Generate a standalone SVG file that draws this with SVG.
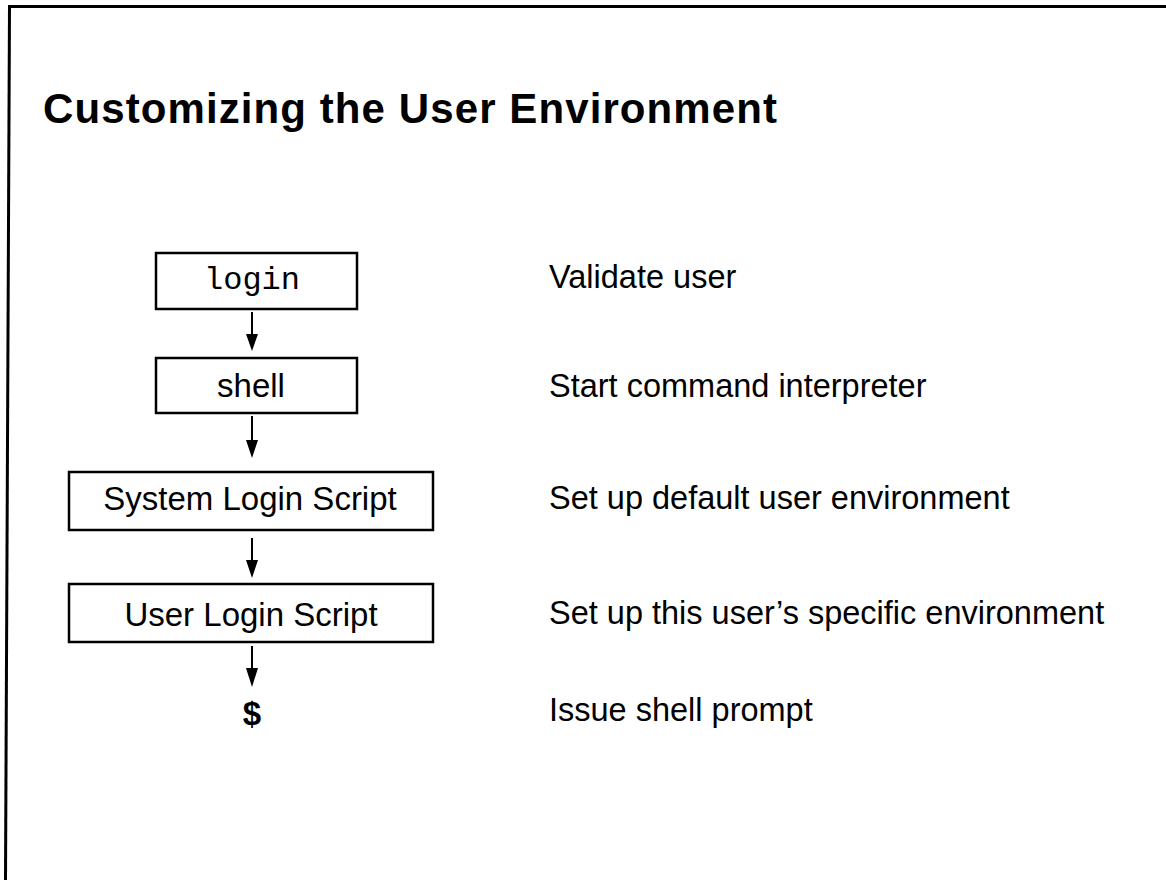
<svg xmlns="http://www.w3.org/2000/svg" width="1166" height="880" viewBox="0 0 1166 880">
  <defs>
    <style>
      .frame { stroke: #000; stroke-width: 3; fill: none; }
      .box { fill: #fff; stroke: #000; stroke-width: 2.5; }
      .sans { font-family: "Liberation Sans", Arial, Helvetica, sans-serif; fill: #000; }
      .mono { font-family: "Liberation Mono", "Courier New", monospace; fill: #000; }
      .label { font-size: 33px; text-anchor: middle; }
      .desc { font-size: 32.5px; }
      .title { font-size: 42px; font-weight: bold; }
      .shaft { stroke: #000; stroke-width: 2; }
      .head { fill: #000; }
    </style>
  </defs>

  <rect width="1166" height="880" fill="#fff"/>

  <!-- page frame: top rule and left rule -->
  <g id="frame">
    <line class="frame" x1="8" y1="6.5" x2="1166" y2="6.5"/>
    <line class="frame" x1="9.5" y1="6" x2="5.5" y2="880"/>
  </g>

  <g id="title">
    <text class="sans title" x="43" y="123" textLength="734" lengthAdjust="spacing">Customizing the User Environment</text>
  </g>

  <!-- flow of steps on the left -->
  <g id="node-login">
    <rect class="box" x="156" y="253" width="201" height="56"/>
    <text class="mono" x="252" y="289" font-size="32" text-anchor="middle">login</text>
  </g>
  <g id="node-shell">
    <rect class="box" x="156" y="358" width="201" height="55"/>
    <text class="sans label" x="251" y="397">shell</text>
  </g>
  <g id="node-system-login">
    <rect class="box" x="69" y="472" width="364" height="58"/>
    <text class="sans label" x="250" y="510">System Login Script</text>
  </g>
  <g id="node-user-login">
    <rect class="box" x="69" y="584" width="364" height="58"/>
    <text class="sans label" x="251" y="626">User Login Script</text>
  </g>
  <g id="node-prompt">
    <text class="sans label" x="252" y="725" font-weight="bold" font-size="30">$</text>
  </g>

  <!-- arrows between steps -->
  <g id="connectors">
    <line class="shaft" x1="252" y1="312" x2="252" y2="336"/>
    <path class="head" d="M246,334 L258,334 L252,351 Z"/>
    <line class="shaft" x1="252" y1="416" x2="252" y2="442"/>
    <path class="head" d="M246,440 L258,440 L252,458 Z"/>
    <line class="shaft" x1="252" y1="538" x2="252" y2="562"/>
    <path class="head" d="M246,560 L258,560 L252,578 Z"/>
    <line class="shaft" x1="252" y1="646" x2="252" y2="670"/>
    <path class="head" d="M246,668 L258,668 L252,687 Z"/>
  </g>

  <!-- descriptions on the right -->
  <g id="descriptions">
    <text class="sans desc" x="549" y="288">Validate user</text>
    <text class="sans desc" x="549" y="397">Start command interpreter</text>
    <text class="sans desc" x="549" y="509">Set up default user environment</text>
    <text class="sans desc" x="549" y="624">Set up this user’s specific environment</text>
    <text class="sans desc" x="549" y="721">Issue shell prompt</text>
  </g>
</svg>
